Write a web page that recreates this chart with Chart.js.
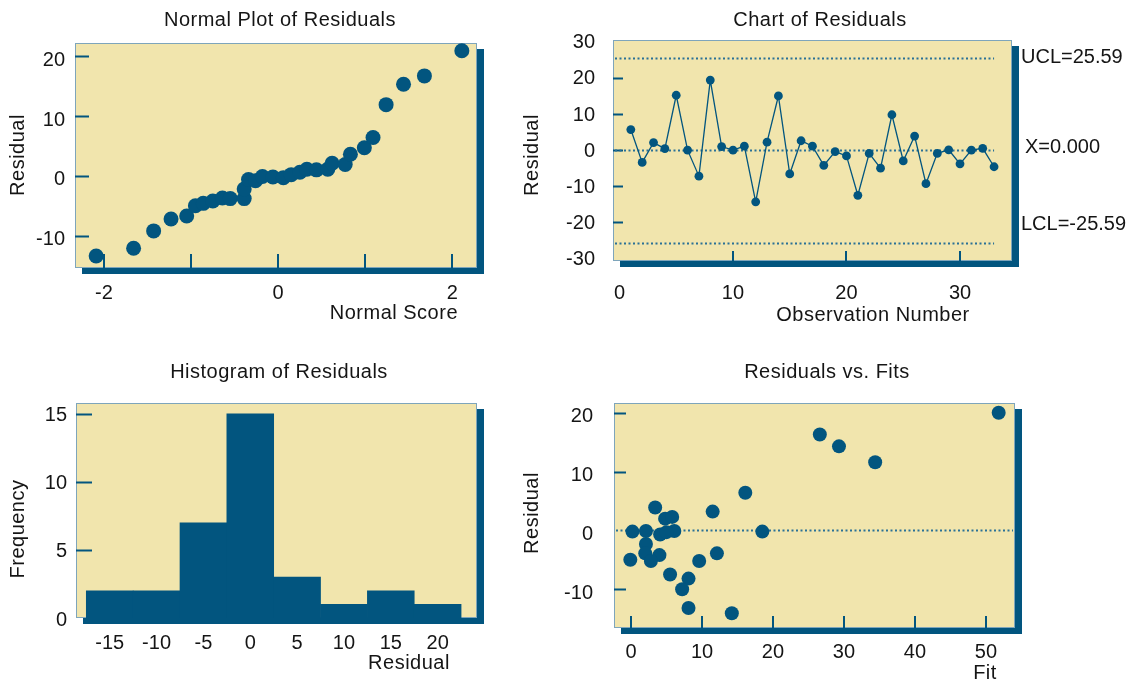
<!DOCTYPE html>
<html>
<head>
<meta charset="utf-8">
<title>Residual Plots</title>
<script src="https://cdn.jsdelivr.net/npm/chart.js@4.4.1/dist/chart.umd.min.js"></script>
<style>
    html, body { margin: 0; padding: 0; background: #fff; }
    #page { position: relative; width: 1135px; height: 684px; overflow: hidden; }
    #page canvas { position: absolute; }
</style>
</head>
<body>
<div id="page">
    <canvas id="normal-plot" width="510" height="345" style="left:0;top:0"></canvas>
    <canvas id="i-chart" width="625" height="345" style="left:510px;top:0"></canvas>
    <canvas id="histogram" width="510" height="339" style="left:0;top:345px"></canvas>
    <canvas id="fits-plot" width="625" height="339" style="left:510px;top:345px"></canvas>
</div>
<script>
// Normal probability plot: normal score vs ordered residual
const normalScores = [-2.09, -1.66, -1.43, -1.23, -1.05, -0.95, -0.86, -0.75, -0.64, -0.55, -0.39,
    -0.39, -0.34, -0.26, -0.18, -0.06, 0.06, 0.15, 0.25, 0.33, 0.44, 0.57, 0.62, 0.77, 0.83, 0.99,
    1.09, 1.24, 1.44, 1.68, 2.11];
const normalResiduals = [-13.4, -12.1, -9.2, -7.2, -6.7, -5.0, -4.6, -4.2, -3.7, -3.8, -3.8,
    -2.2, -0.6, -0.8, -0.1, -0.2, -0.3, 0.2, 0.6, 1.1, 1.0, 1.1, 2.1, 1.9, 3.6, 4.7,
    6.4, 11.9, 15.3, 16.7, 20.9];

// Individuals chart, residual by observation order
const obsResiduals = [5.7, -3.4, 2.1, 0.4, 15.2, 0.0, -7.2, 19.4, 1.0, 0.0, 1.1, -14.3, 2.2, 15.0,
    -6.6, 2.6, 1.1, -4.2, -0.4, -1.6, -12.5, -0.9, -5.0, 9.8, -3.0, 3.9, -9.3, -0.9, 0.1, -3.8,
    0.0, 0.5, -4.6];
const UCL = 25.59;
const CENTER = 0;
const LCL = -25.59;

// Histogram bins
const binCenters = [-15, -10, -5, 0, 5, 10, 15, 20];
const binCounts = [2, 2, 7, 15, 3, 1, 2, 1];

// Residuals vs fitted values
const fits = [51.8, 26.6, 29.3, 34.4, 16.1, 11.5, 3.4, 4.8, 5.8, 18.5, 0.2, 2.1, 6.1, 4.1,
    5.0, 2.1, 2.0, 4.0, 2.8, -0.1, 9.6, 12.1, 5.5, 8.1, 7.2, 8.1, 14.2];
const fitResiduals = [20.0, 16.3, 14.3, 11.6, 6.4, 3.2, 3.9, 2.0, 2.3, -0.2, -0.2, -0.1, -0.1, -0.7,
    -0.3, -2.3, -3.9, -4.2, -5.2, -5.0, -5.2, -3.9, -7.5, -8.2, -10.0, -13.2, -14.1];

// Tick values and their labels
const normXTicks = [-2, 0, 2];
const normXMarks = [-2, -1, 0, 1, 2];
const normYTicks = [20, 10, 0, -10];
const chartXTicks = [0, 10, 20, 30];
const chartXMarks = [10, 20, 30];
const chartYTicks = [30, 20, 10, 0, -10, -20, -30];
const chartYMarks = [20, 10, 0, -10, -20];
const histXTicks = binCenters;
const histYTicks = [15, 10, 5, 0];
const histYMarks = [15, 10, 5];
const fitXTicks = [0, 10, 20, 30, 40, 50];
const fitYTicks = [20, 10, 0, -10];
const fitYMarks = [20, 10, -10];

const BLUE = '#02557f';
const PAPER = '#f1e5ad';
const EDGE = '#7ea5bb';
const DOTS = '#2a7196';
const INK = '#151515';
const FONT = '"Liberation Sans", Arial, Helvetica, sans-serif';

Chart.defaults.font.family = FONT;
Chart.defaults.font.size = 20;
Chart.defaults.color = INK;
Chart.defaults.animation = false;
Chart.defaults.events = [];
Chart.defaults.plugins.legend.display = false;
Chart.defaults.plugins.tooltip.enabled = false;

function axis(min, max, values, padding, size, horizontal, labelOffset = 0) {
    return {
        type: 'linear', min, max, offset: false,
        grid: { display: false, drawTicks: false },
        border: { display: false },
        afterBuildTicks: s => { s.ticks = values.map(value => ({ value })); },
        ticks: { padding, labelOffset, autoSkip: false, maxRotation: 0, callback: v => String(v) },
        afterFit: s => { if (horizontal) s.height = size; else s.width = size; }
    };
}

// paper panel with drop shadow, inner tick marks, dotted reference lines and captions
const framePlugin = {
    id: 'frame',
    beforeDraw(chart, args, o) {
        const { ctx, chartArea: a } = chart;
        ctx.save();
        ctx.fillStyle = BLUE;
        ctx.fillRect(a.left + 7, a.top + 6, a.width, a.height);
        ctx.fillStyle = PAPER;
        ctx.fillRect(a.left, a.top, a.width, a.height);
        ctx.strokeStyle = EDGE;
        ctx.lineWidth = 1;
        ctx.strokeRect(a.left + 0.5, a.top + 0.5, a.width - 1, a.height - 1);
        ctx.restore();
    },
    beforeDatasetsDraw(chart, args, o) {
        const { ctx, chartArea: a, scales } = chart;
        ctx.save();
        ctx.strokeStyle = BLUE;
        ctx.lineWidth = 2;
        (o.yMarks || []).forEach(v => {
            const y = Math.round(scales.y.getPixelForValue(v)) + 0.5;
            ctx.beginPath();
            ctx.moveTo(a.left, y);
            ctx.lineTo(a.left + o.markLen, y);
            ctx.stroke();
        });
        (o.xMarks || []).forEach(v => {
            const x = Math.round(scales.x.getPixelForValue(v));
            ctx.beginPath();
            ctx.moveTo(x, a.bottom);
            ctx.lineTo(x, a.bottom - o.markLen);
            ctx.stroke();
        });
        ctx.strokeStyle = DOTS;
        ctx.lineWidth = 2;
        ctx.setLineDash([2, 2.5]);
        (o.refLines || []).forEach(r => {
            const y = Math.round(scales.y.getPixelForValue(r.value)) + 0.5;
            const x0 = r.from === undefined ? a.left + 2 : scales.x.getPixelForValue(r.from);
            const x1 = r.to === undefined ? a.right - 2 : scales.x.getPixelForValue(r.to);
            ctx.beginPath();
            ctx.moveTo(x0, y);
            ctx.lineTo(x1, y);
            ctx.stroke();
        });
        ctx.restore();
    },
    afterDraw(chart, args, o) {
        const { ctx, chartArea: a, scales } = chart;
        ctx.save();
        ctx.fillStyle = INK;
        ctx.font = '20px ' + FONT;
        ctx.textBaseline = 'middle';
        ctx.letterSpacing = '0.5px';
        (o.texts || []).forEach(t => {
            ctx.save();
            ctx.translate(t.x, t.y);
            if (t.rotate) ctx.rotate(-Math.PI / 2);
            ctx.textAlign = t.align || 'center';
            ctx.fillText(t.text, 0, 0);
            ctx.restore();
        });
        ctx.letterSpacing = '0px';
        ctx.textAlign = 'left';
        (o.sideLabels || []).forEach(t => {
            ctx.fillText(t.text, a.right + t.dx, scales.y.getPixelForValue(t.value) + t.dy);
        });
        ctx.restore();
    }
};

// Normal plot of residuals
new Chart(document.getElementById('normal-plot'), {
    type: 'scatter',
    data: {
        datasets: [{
            data: normalScores.map((x, i) => ({ x, y: normalResiduals[i] })),
            pointRadius: 7.5, pointBackgroundColor: BLUE, pointBorderWidth: 0
        }]
    },
    options: {
        responsive: false,
        layout: { padding: { left: 0, top: 43, right: 33, bottom: 0 } },
        scales: {
            x: axis(-2.333, 2.284, normXTicks, 13, 77, true),
            y: axis(-15.4, 22.2, normYTicks, 10, 75, false, 4)
        },
        plugins: {
            frame: {
                markLen: 14, xMarks: normXMarks, yMarks: normYTicks,
                texts: [
                    { text: 'Normal Plot of Residuals', x: 280, y: 20 },
                    { text: 'Residual', x: 18, y: 155, rotate: true },
                    { text: 'Normal Score', x: 458, y: 313, align: 'right' }
                ]
            }
        }
    },
    plugins: [framePlugin]
});

// I chart of residuals
new Chart(document.getElementById('i-chart'), {
    type: 'line',
    data: {
        datasets: [{
            data: obsResiduals.map((y, i) => ({ x: i + 1, y })),
            borderColor: BLUE, borderWidth: 1.3,
            pointRadius: 4.4, pointBackgroundColor: BLUE, pointBorderWidth: 0,
            tension: 0
        }]
    },
    options: {
        responsive: false,
        layout: { padding: { left: 0, top: 40, right: 123, bottom: 0 } },
        scales: {
            x: axis(-0.57, 34.58, chartXTicks, 20, 84, true),
            y: axis(-30.7, 30.5, chartYTicks, 18, 103, false, 1)
        },
        plugins: {
            frame: {
                markLen: 10, xMarks: chartXMarks, yMarks: chartYMarks,
                refLines: [
                    { value: UCL, to: obsResiduals.length },
                    { value: CENTER, to: obsResiduals.length },
                    { value: LCL, to: obsResiduals.length }
                ],
                sideLabels: [
                    { text: 'UCL=' + UCL.toFixed(2), value: UCL, dx: 9, dy: 0 },
                    { text: 'X=' + CENTER.toFixed(3), value: CENTER, dx: 13, dy: -3 },
                    { text: 'LCL=' + LCL.toFixed(2), value: LCL, dx: 9, dy: -18 }
                ],
                texts: [
                    { text: 'Chart of Residuals', x: 310, y: 20 },
                    { text: 'Residual', x: 22, y: 155, rotate: true },
                    { text: 'Observation Number', x: 363, y: 315 }
                ]
            }
        }
    },
    plugins: [framePlugin]
});

// Histogram of residuals
new Chart(document.getElementById('histogram'), {
    type: 'bar',
    data: {
        datasets: [{
            data: binCenters.map((x, i) => ({ x, y: binCounts[i] })),
            backgroundColor: BLUE, borderWidth: 0,
            barPercentage: 1, categoryPercentage: 1
        }]
    },
    options: {
        responsive: false,
        layout: { padding: { left: 0, top: 58, right: 33, bottom: 0 } },
        scales: {
            x: axis(-18.6, 24.2, histXTicks, 13, 66, true),
            y: axis(0, 15.8, histYTicks, 9, 76, false, 2)
        },
        plugins: {
            frame: {
                markLen: 16, yMarks: histYMarks,
                texts: [
                    { text: 'Histogram of Residuals', x: 279, y: 27 },
                    { text: 'Frequency', x: 18, y: 184, rotate: true },
                    { text: 'Residual', x: 409, y: 318 }
                ]
            }
        }
    },
    plugins: [framePlugin]
});

// Residuals vs fits
new Chart(document.getElementById('fits-plot'), {
    type: 'scatter',
    data: {
        datasets: [{
            data: fits.map((x, i) => ({ x, y: fitResiduals[i] })),
            pointRadius: 7, pointBackgroundColor: BLUE, pointBorderWidth: 0
        }]
    },
    options: {
        responsive: false,
        layout: { padding: { left: 0, top: 58, right: 120, bottom: 0 } },
        scales: {
            x: axis(-2.4, 54.1, fitXTicks, 12, 56, true),
            y: axis(-16.6, 21.67, fitYTicks, 21, 104, false, 4)
        },
        plugins: {
            frame: {
                markLen: 12, xMarks: fitXTicks, yMarks: fitYMarks,
                refLines: [{ value: 0 }],
                texts: [
                    { text: 'Residuals vs. Fits', x: 317, y: 27 },
                    { text: 'Residual', x: 22, y: 168, rotate: true },
                    { text: 'Fit', x: 475, y: 328 }
                ]
            }
        }
    },
    plugins: [framePlugin]
});
</script>
</body>
</html>
